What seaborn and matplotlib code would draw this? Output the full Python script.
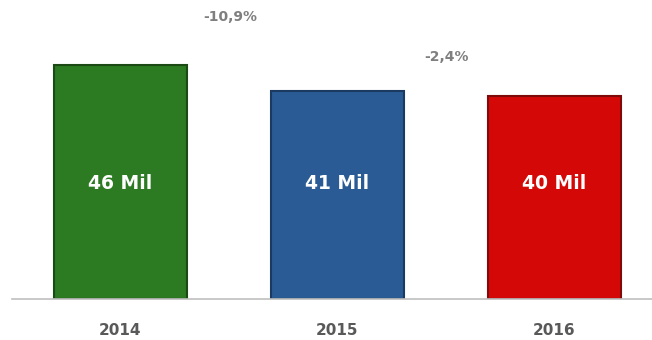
import pandas as pd
import matplotlib
matplotlib.use("Agg")
import matplotlib.pyplot as plt
import seaborn as sns

# Chart style
sns.set_theme(style="white")
plt.rcParams["font.family"] = ["DejaVu Sans"]

# Data
years = ["2014", "2015", "2016"]
values = [46, 41, 40]
bar_labels = ["46 Mil", "41 Mil", "40 Mil"]
changes = ["-10,9%", "-2,4%"]

colors = ["#2C7A22", "#2A5B94", "#D50808"]
edges = ["#1B4A14", "#1A3A62", "#7E0A0A"]

df = pd.DataFrame({"Year": years, "Value": values})

fig = plt.figure(figsize=(6.52, 3.40), dpi=100)
ax = fig.add_axes([12 / 652, 41 / 340, 640 / 652, 299 / 340])

sns.barplot(
    data=df, x="Year", y="Value", hue="Year",
    palette=colors, width=0.61, legend=False, ax=ax,
    saturation=1,
)

for patch, ec in zip(ax.patches, edges):
    patch.set_edgecolor(ec)
    patch.set_linewidth(1.5)

# labels inside bars
for i, (v, lab) in enumerate(zip(values, bar_labels)):
    ax.text(i, 22.8, lab, ha="center", va="center", color="white",
            fontsize=13.5, fontweight="bold")

# change labels between bars
change_y = [55.5, 47.6]
for i, (txt, y) in enumerate(zip(changes, change_y)):
    ax.text(i + 0.505, y, txt, ha="center", va="center", color="#7F7F7F",
            fontsize=10, fontweight="bold")

ax.set_xlim(-0.5, 2.45)
ax.set_ylim(0, 58.9)
ax.set_xlabel("")
ax.set_ylabel("")
ax.set_yticks([])
ax.tick_params(axis="x", length=0, pad=17, labelsize=11, labelcolor="#595959")
for lab in ax.get_xticklabels():
    lab.set_fontweight("bold")

for s in ["top", "right", "left"]:
    ax.spines[s].set_visible(False)
ax.spines["bottom"].set_color("#BFBFBF")
ax.spines["bottom"].set_linewidth(1.2)

plt.savefig("out.png", dpi=100)
